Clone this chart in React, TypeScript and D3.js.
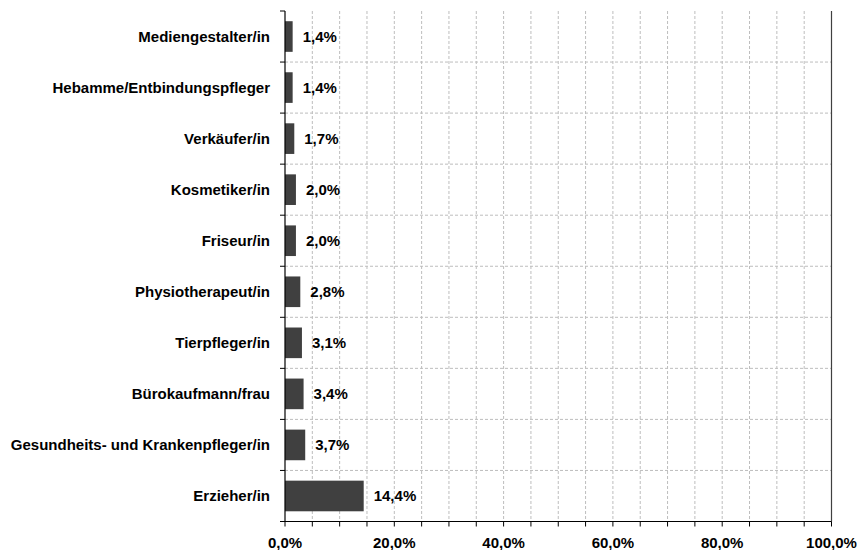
import React from "react";
import * as d3 from "d3";

const categories = [
  "Mediengestalter/in",
  "Hebamme/Entbindungspfleger",
  "Verkäufer/in",
  "Kosmetiker/in",
  "Friseur/in",
  "Physiotherapeut/in",
  "Tierpfleger/in",
  "Bürokaufmann/frau",
  "Gesundheits- und Krankenpfleger/in",
  "Erzieher/in",
];
const values = [1.4, 1.4, 1.7, 2.0, 2.0, 2.8, 3.1, 3.4, 3.7, 14.4];
const xTicks = [0, 20, 40, 60, 80, 100];

const W = 857;
const H = 550;
const left = 285;
const right = 831.5;
const top = 11;
const bottom = 521.5;

const fmt = (v: number) => v.toFixed(1).replace(".", ",") + "%";

export default function App() {
  const x = d3.scaleLinear().domain([0, 100]).range([left, right]);
  const y = d3.scaleBand().domain(categories).range([top, bottom]).paddingInner(0.4).paddingOuter(0.2);
  const yb = d3.scaleBand().domain(categories).range([top, bottom]);
  const minor = d3.range(0, 101, 5);
  const font = "'Liberation Sans', Arial, sans-serif";
  return (
    <svg width={W} height={H} style={{ position: "absolute", left: 0, top: 0 }}>
      <rect width={W} height={H} fill="#fff" />
      {minor.slice(1).map((t) => (
        <line key={"gx" + t} x1={x(t)} x2={x(t)} y1={top} y2={bottom} stroke="#bdbdbd" strokeDasharray="3,2" />
      ))}
      {categories.slice(1).map((c) => (
        <line key={"gy" + c} x1={left} x2={right} y1={yb(c)!} y2={yb(c)!} stroke="#bdbdbd" strokeDasharray="3,2" />
      ))}
      {categories.map((c, i) => (
        <rect key={"b" + c} x={x(0)} y={y(c)!} width={x(values[i]) - x(0)} height={y.bandwidth()} fill="#404040" />
      ))}
      {categories.map((c, i) => (
        <text
          key={"v" + c}
          x={x(values[i]) + 10}
          y={yb(c)! + yb.bandwidth() / 2}
          dy="0.35em"
          fontFamily={font}
          fontWeight="bold"
          fontSize={15}
          fill="#000"
        >
          {fmt(values[i])}
        </text>
      ))}
      {categories.map((c) => (
        <text
          key={"c" + c}
          x={left - 15}
          y={yb(c)! + yb.bandwidth() / 2}
          dy="0.35em"
          textAnchor="end"
          fontFamily={font}
          fontWeight="bold"
          fontSize={15}
          fill="#000"
        >
          {c}
        </text>
      ))}
      {/* left axis */}
      <line x1={left} x2={left} y1={top} y2={bottom} stroke="#000" strokeWidth={1.2} />
      {[...categories.map((c) => yb(c)!), bottom].map((v, i) => (
        <line key={"ty" + i} x1={left - 5} x2={left} y1={v} y2={v} stroke="#000" />
      ))}
      {/* right border */}
      <line x1={right} x2={right} y1={top} y2={bottom} stroke="#404040" strokeWidth={1.2} />
      {/* bottom axis */}
      <line x1={left} x2={right} y1={bottom} y2={bottom} stroke="#000" strokeWidth={1.2} />
      {minor.map((t) => (
        <line key={"tx" + t} x1={x(t)} x2={x(t)} y1={bottom} y2={bottom + 5} stroke="#000" />
      ))}
      {xTicks.map((t) => (
        <text
          key={"lx" + t}
          x={x(t)}
          y={548}
          textAnchor="middle"
          fontFamily={font}
          fontWeight="bold"
          fontSize={15}
          fill="#000"
        >
          {fmt(t)}
        </text>
      ))}
    </svg>
  );
}
